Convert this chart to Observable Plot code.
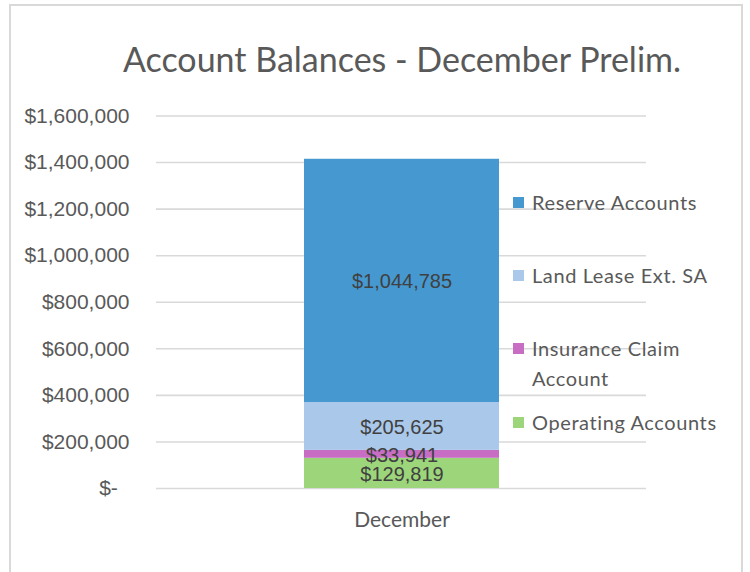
<!DOCTYPE html>
<html>
<head>
<meta charset="utf-8">
<script src="https://cdn.jsdelivr.net/npm/d3@7"></script>
<script src="https://cdn.jsdelivr.net/npm/@observablehq/plot@0.6"></script>
<style>
  html, body { margin: 0; padding: 0; background: #fff; overflow: hidden; }
  #wrap { position: relative; width: 750px; height: 572px; overflow: hidden; }
  #frame { position: absolute; left: 9px; top: 4px; width: 734px; height: 640px; border: 2px solid #d9d9d9; box-sizing: border-box; pointer-events: none; }
  #title { position: absolute; left: 0; top: 42px; width: 804px; text-align: center; font-family: Lato, sans-serif; font-size: 34px; line-height: 34px; color: #595959; white-space: nowrap; }
  #chart { position: absolute; left: 0; top: 95px; }
  .leg { position: absolute; left: 513px; font-family: Lato, sans-serif; font-size: 20px; letter-spacing: 0.6px; color: #595959; line-height: 30px; }
  .leg .sw { position: absolute; left: 0; top: 10px; width: 11px; height: 11px; }
  .leg .tx { position: absolute; left: 19px; top: 0; white-space: nowrap; }
</style>
</head>
<body>
<div id="wrap">
  <div id="title"></div>
  <div id="chart"></div>
  <div id="legend"></div>
  <div id="frame"></div>
</div>
<script>
const title = "Account Balances - December Prelim.";
const categories = ["December"];
const series = ["Operating Accounts", "Insurance Claim Account", "Land Lease Ext. SA", "Reserve Accounts"];
const values = [129819, 33941, 205625, 1044785];
const colors = ["#9dd67a", "#c76dc4", "#aac8ea", "#4599d0"];
const yTicks = [0, 200000, 400000, 600000, 800000, 1000000, 1200000, 1400000, 1600000];
const legendOrder = ["Reserve Accounts", "Land Lease Ext. SA", "Insurance Claim Account", "Operating Accounts"];
const legendLabels = ["Reserve Accounts", "Land Lease Ext. SA", "Insurance Claim<br>Account", "Operating Accounts"];

document.getElementById("title").textContent = title;

const data = series.map((s, i) => ({month: categories[0], series: s, value: values[i]}));
const fmt = d3.format(",");
const tickFmt = d => d === 0 ? "$-\u00A0\u00A0" : "$" + fmt(d);

const chart = Plot.plot({
  width: 750,
  height: 477,
  marginLeft: 156,
  marginRight: 104,
  marginTop: 20.5,
  marginBottom: 84,
  style: {fontFamily: "'Liberation Sans', Arial, sans-serif", background: "transparent"},
  x: {domain: categories, padding: 0.43},
  y: {domain: [0, 1600000]},
  color: {domain: series, range: colors},
  marks: [
    Plot.gridY(yTicks, {stroke: "#d9d9d9", strokeOpacity: 1, strokeWidth: 1.6}),
    Plot.axisY(yTicks, {tickSize: 0, tickPadding: 27, tickFormat: tickFmt, fontSize: 21, fill: "#595959", label: null}),
    Plot.axisX({tickSize: 0, tickPadding: 24, fontSize: 21, fill: "#595959", fontFamily: "Lato, sans-serif", label: null}),
    Plot.barY(data, {x: "month", y: "value", fill: "series"}),
    Plot.text(data, Plot.stackY({x: "month", y: "value", text: d => "$" + fmt(d.value), fill: "#404040", fontSize: 20, dy: 1}))
  ]
});
document.getElementById("chart").appendChild(chart);

const legendY = [187, 260, 333, 407];
const leg = document.getElementById("legend");
legendOrder.forEach((s, i) => {
  const el = document.createElement("div");
  el.className = "leg";
  el.style.top = legendY[i] + "px";
  const c = colors[series.indexOf(s)];
  el.innerHTML = `<div class="sw" style="background:${c}"></div><div class="tx">${legendLabels[i]}</div>`;
  leg.appendChild(el);
});
</script>
</body>
</html>
